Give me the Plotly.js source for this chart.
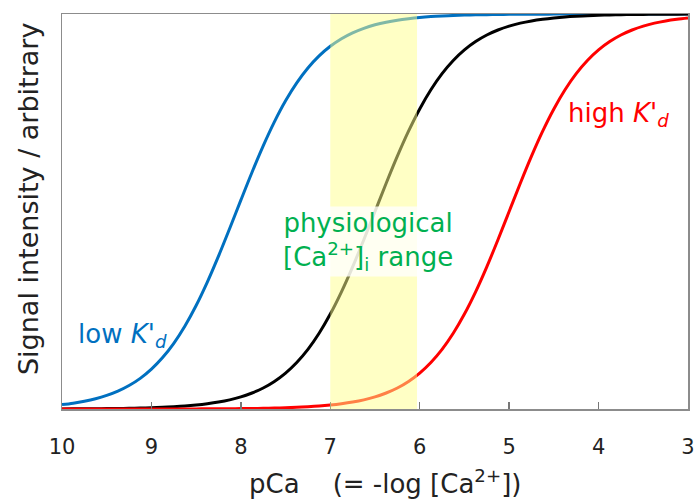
<!DOCTYPE html>
<html>
<head>
<meta charset="utf-8">
<script src="https://cdn.plot.ly/plotly-3.0.1.min.js"></script>
<style>html,body{margin:0;padding:0;background:#fff;}#chart{width:698px;height:499px;}</style>
</head>
<body>
<div id="chart"></div>
<script>
// pCa sample positions (x axis, reversed 10 -> 3), step 0.125
const pCa = [10, 9.875, 9.75, 9.625, 9.5, 9.375, 9.25, 9.125, 9, 8.875, 8.75, 8.625, 8.5, 8.375, 8.25, 8.125,
             8, 7.875, 7.75, 7.625, 7.5, 7.375, 7.25, 7.125, 7, 6.875, 6.75, 6.625, 6.5, 6.375, 6.25, 6.125,
             6, 5.875, 5.75, 5.625, 5.5, 5.375, 5.25, 5.125, 5, 4.875, 4.75, 4.625, 4.5, 4.375, 4.25, 4.125,
             4, 3.875, 3.75, 3.625, 3.5, 3.375, 3.25, 3.125, 3];
// signal values (0 = bottom of frame, 1 = top of frame)
const lowKd = [0.0111, 0.0147, 0.0196, 0.0259, 0.0343, 0.0452, 0.0594, 0.0776, 0.1009, 0.1302, 0.1663, 0.2102, 0.2619, 0.3212, 0.3869, 0.4569,
               0.5287, 0.5994, 0.6661, 0.7268, 0.7801, 0.8255, 0.8632, 0.8938, 0.9182, 0.9374, 0.9523, 0.9638, 0.9726, 0.9793, 0.9844, 0.9882,
               0.9912, 0.9934, 0.9950, 0.9963, 0.9972, 0.9979, 0.9984, 0.9988, 0.9991, 0.9993, 0.9995, 0.9996, 0.9997, 0.9998, 0.9998, 0.9999,
               0.9999, 1.0, 1.0, 1.0, 1.0, 1.0, 1.0, 1.0, 1.0];
const midKd = [0.0003, 0.0004, 0.0006, 0.0007, 0.0010, 0.0013, 0.0018, 0.0024, 0.0032, 0.0042, 0.0056, 0.0074, 0.0099, 0.0132, 0.0175, 0.0232,
               0.0307, 0.0405, 0.0532, 0.0698, 0.0909, 0.1177, 0.1510, 0.1917, 0.2403, 0.2966, 0.3599, 0.4285, 0.5000, 0.5715, 0.6401, 0.7034,
               0.7597, 0.8083, 0.8490, 0.8823, 0.9091, 0.9302, 0.9468, 0.9595, 0.9693, 0.9768, 0.9825, 0.9868, 0.9901, 0.9926, 0.9944, 0.9958,
               0.9968, 0.9976, 0.9982, 0.9987, 0.9990, 0.9993, 0.9994, 0.9996, 0.9997];
const highKd = [0.0000, 0.0000, 0.0000, 0.0000, 0.0000, 0.0000, 0.0001, 0.0001, 0.0001, 0.0001, 0.0002, 0.0002, 0.0003, 0.0004, 0.0006, 0.0007,
                0.0010, 0.0013, 0.0018, 0.0024, 0.0032, 0.0042, 0.0056, 0.0074, 0.0099, 0.0132, 0.0175, 0.0232, 0.0307, 0.0405, 0.0532, 0.0698,
                0.0909, 0.1177, 0.1510, 0.1917, 0.2403, 0.2966, 0.3599, 0.4285, 0.5000, 0.5715, 0.6401, 0.7034, 0.7597, 0.8083, 0.8490, 0.8823,
                0.9091, 0.9302, 0.9468, 0.9595, 0.9693, 0.9768, 0.9825, 0.9868, 0.9901];
const tickVals = [10, 9, 8, 7, 6, 5, 4, 3];
const tickText = ['10', '9', '8', '7', '6', '5', '4', '3'];
const bandRange = [7, 6.03];

const FONT = 'DejaVu Sans, Verdana, sans-serif';

const traces = [
  {x: pCa, y: lowKd,  mode: 'lines', line: {color: '#0070C0', width: 3, shape: 'spline'}, hoverinfo: 'skip'},
  {x: pCa, y: midKd,  mode: 'lines', line: {color: '#000000', width: 3, shape: 'spline'}, hoverinfo: 'skip'},
  {x: pCa, y: highKd, mode: 'lines', line: {color: '#FF0000', width: 3, shape: 'spline'}, hoverinfo: 'skip'}
];

const layout = {
  width: 698, height: 499,
  margin: {l: 62, r: 10, t: 14, b: 90},
  paper_bgcolor: '#ffffff', plot_bgcolor: '#ffffff',
  showlegend: false,
  font: {family: FONT, color: '#222222'},
  xaxis: {
    range: [10, 3], tickvals: tickVals, ticktext: tickText,
    ticks: 'inside', ticklen: 7, tickwidth: 1.5, tickcolor: '#777777',
    showline: true, linecolor: '#8c8c8c', linewidth: 1.5, mirror: true,
    showgrid: false, zeroline: false,
    tickfont: {family: FONT, size: 21, color: '#222222'},
    ticklabelstandoff: 18
  },
  yaxis: {
    range: [0, 1], showticklabels: false, ticks: '',
    showline: true, linecolor: '#8c8c8c', linewidth: 1.5, mirror: true,
    showgrid: false, zeroline: false
  },
  shapes: [
    {type: 'rect', layer: 'above', xref: 'x', yref: 'paper', x0: bandRange[0], x1: bandRange[1], y0: 0, y1: 1,
     fillcolor: 'rgba(255,255,140,0.5)', line: {width: 0}}
  ],
  annotations: [
    {text: 'physiological<br>[Ca<sup>2+</sup>]<sub>i</sub> range', xref: 'x', yref: 'y', x: 6.577, y: 0.425,
     xanchor: 'center', yanchor: 'middle', showarrow: false, align: 'center',
     font: {family: FONT, size: 26, color: '#00B050'}, bgcolor: 'rgba(255,255,255,0.78)', borderpad: 1},
    {text: "low <i>K'</i><sub><i>d</i></sub>", xref: 'x', yref: 'y', x: 9.84, y: 0.185,
     xanchor: 'left', yanchor: 'middle', showarrow: false,
     font: {family: FONT, size: 26, color: '#0070C0'}},
    {text: "high <i>K'</i><sub><i>d</i></sub>", xref: 'x', yref: 'y', x: 4.36, y: 0.745,
     xanchor: 'left', yanchor: 'middle', showarrow: false,
     font: {family: FONT, size: 26, color: '#FF0000'}},
    {text: 'Signal intensity / arbitrary', xref: 'paper', yref: 'paper', x: -0.0543, y: 0.5316,
     xanchor: 'center', yanchor: 'middle', textangle: -90, showarrow: false,
     font: {family: FONT, size: 27, color: '#222222'}},
    {text: 'pCa\u00a0\u00a0\u00a0\u00a0(= -log [Ca<sup>2+</sup>])', xref: 'paper', yref: 'paper', x: 0.516, y: -0.185,
     xanchor: 'center', yanchor: 'middle', showarrow: false,
     font: {family: FONT, size: 26, color: '#222222'}}
  ]
};

Plotly.newPlot('chart', traces, layout, {staticPlot: true, displayModeBar: false});
</script>
</body>
</html>
